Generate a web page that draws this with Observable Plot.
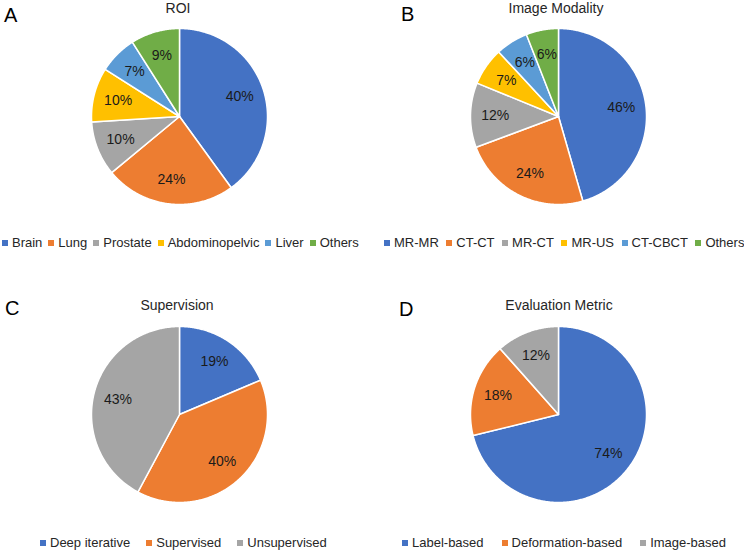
<!DOCTYPE html>
<html><head><meta charset="utf-8">
<script src="https://cdn.jsdelivr.net/npm/d3@7"></script>
<script src="https://cdn.jsdelivr.net/npm/@observablehq/plot@0.6"></script>
<style>
body{margin:0;background:#fff;font-family:"Liberation Sans",Arial,sans-serif;}
#grid{position:relative;width:744px;height:552px;overflow:hidden}
.panel{position:absolute;width:372px;height:276px;}
.panel svg{position:absolute;left:0;top:0}
.letter{position:absolute;font-size:20px;line-height:20px;color:#000;}
.title{position:absolute;font-size:14px;line-height:14px;color:#262626;transform:translateX(-50%);white-space:nowrap}
.legend{position:absolute;display:flex;justify-content:flex-start;font-size:13px;line-height:15px;color:#262626;white-space:nowrap}
.item{display:flex;align-items:center}
.sw{width:6px;height:6px;margin-right:4px}
</style></head>
<body><div id="grid"></div>
<script>
// ---- data ----
const roiLabels = ["Brain","Lung","Prostate","Abdominopelvic","Liver","Others"];
const roiValues = [40,24,10,10,7,9];
const modLabels = ["MR-MR","CT-CT","MR-CT","MR-US","CT-CBCT","Others"];
const modValues = [46,24,12,7,6,6];
const supLabels = ["Deep iterative","Supervised","Unsupervised"];
const supValues = [19,40,43];
const evalLabels = ["Label-based","Deformation-based","Image-based"];
const evalValues = [74,18,12];
const titles = ["ROI","Image Modality","Supervision","Evaluation Metric"];
const letters = ["A","B","C","D"];
const palette = ["#4472C4","#ED7D31","#A5A5A5","#FFC000","#5B9BD5","#70AD47"];

// ---- layout ----
const layouts = [
  {left:0,top:0,lx:4,ly:5,tx:178,ty:1,cx:179,cy:116,legX:2,legY:235,gap:6},
  {left:372,top:0,lx:29,ly:4,tx:184,ty:1,cx:186,cy:116,legX:12,legY:235,gap:7.5},
  {left:0,top:276,lx:5,ly:22,tx:177,ty:22,cx:179,cy:138,legX:40,legY:259,gap:16},
  {left:372,top:276,lx:27,ly:23,tx:187,ty:22,cx:186,cy:138,legX:30,legY:259,gap:18}
];
const R = 88;
const sets = [[roiLabels,roiValues],[modLabels,modValues],[supLabels,supValues],[evalLabels,evalValues]];

const grid = document.getElementById("grid");
sets.forEach(([labels, values], i) => {
  const L = layouts[i];
  const panel = document.createElement("div");
  panel.className = "panel";
  panel.style.left = L.left + "px"; panel.style.top = L.top + "px";
  grid.appendChild(panel);

  const data = labels.map((k, j) => ({key: k, value: values[j]}));
  const arcs = d3.pie().sort(null).value(d => d.value)(data);
  const pts = [];
  const lbls = [];
  arcs.forEach(a => {
    const k = a.data.key;
    pts.push({key: k, x: 0, y: 0});
    const n = Math.max(2, Math.ceil((a.endAngle - a.startAngle) / 0.01));
    for (let s = 0; s <= n; s++) {
      const t = a.startAngle + (a.endAngle - a.startAngle) * s / n;
      pts.push({key: k, x: Math.sin(t), y: Math.cos(t)});
    }
    pts.push({key: k, x: 0, y: 0});
    const m = (a.startAngle + a.endAngle) / 2;
    lbls.push({x: 0.72 * Math.sin(m), y: 0.72 * Math.cos(m), text: a.data.value + "%"});
  });

  const chart = Plot.plot({
    width: 372, height: 276,
    marginLeft: L.cx - R, marginRight: 372 - L.cx - R,
    marginTop: L.cy - R, marginBottom: 276 - L.cy - R,
    style: {background: "transparent", fontFamily: "'Liberation Sans', Arial, sans-serif"},
    x: {domain: [-1, 1], axis: null},
    y: {domain: [-1, 1], axis: null},
    color: {domain: labels, range: palette.slice(0, labels.length)},
    marks: [
      Plot.line(pts, {x: "x", y: "y", z: "key", fill: "key", stroke: "white", strokeWidth: 1.5, strokeLinejoin: "round", curve: "linear"}),
      Plot.text(lbls, {x: "x", y: "y", text: "text", fontSize: 14, fill: "#1a1a1a"})
    ]
  });
  panel.appendChild(chart);

  const letter = document.createElement("div");
  letter.className = "letter"; letter.textContent = letters[i];
  letter.style.left = L.lx + "px"; letter.style.top = L.ly + "px";
  panel.appendChild(letter);

  const title = document.createElement("div");
  title.className = "title"; title.textContent = titles[i];
  title.style.left = L.tx + "px"; title.style.top = L.ty + "px";
  panel.appendChild(title);

  const leg = document.createElement("div");
  leg.className = "legend"; leg.style.left = L.legX + "px"; leg.style.top = L.legY + "px"; leg.style.gap = L.gap + "px";
  labels.forEach((k, j) => {
    const it = document.createElement("div"); it.className = "item";
    const sw = document.createElement("span"); sw.className = "sw"; sw.style.background = palette[j];
    const tx = document.createElement("span"); tx.textContent = k;
    it.appendChild(sw); it.appendChild(tx); leg.appendChild(it);
  });
  panel.appendChild(leg);
});
</script>
</body></html>
